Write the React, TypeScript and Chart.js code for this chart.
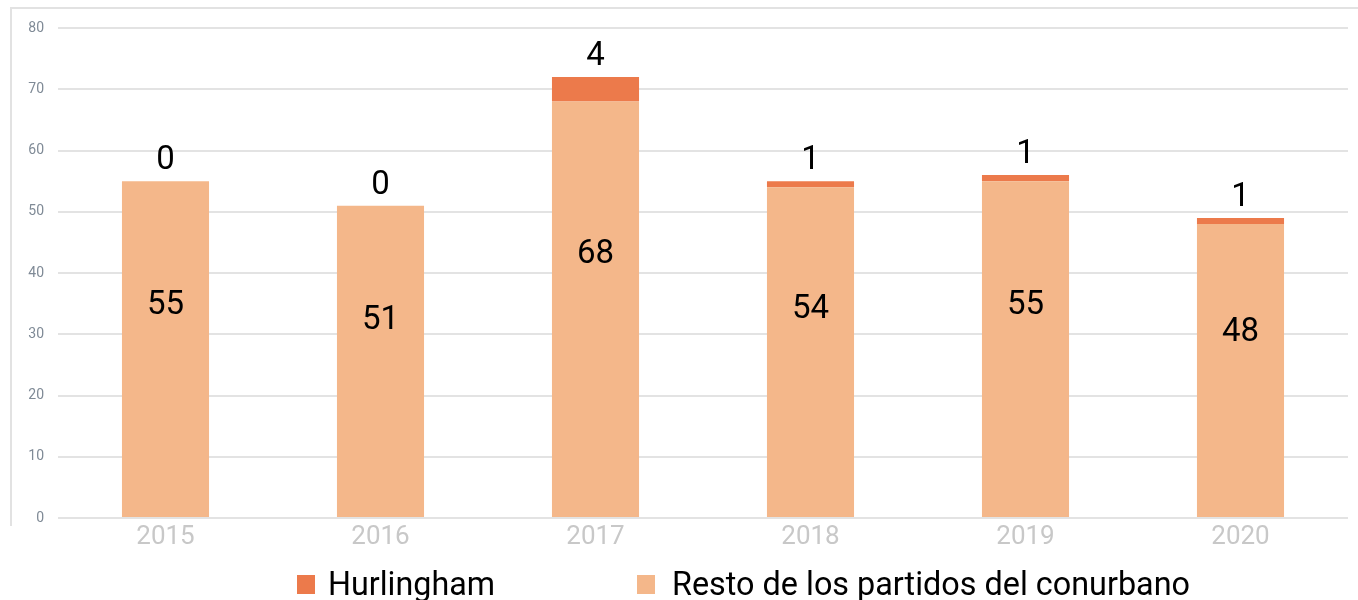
import React, { useEffect, useRef } from "react";
import { Chart, registerables } from "chart.js";

Chart.register(...registerables);

const years = ["2015", "2016", "2017", "2018", "2019", "2020"];
const resto = [55, 51, 68, 54, 55, 48];
const hurlingham = [0, 0, 4, 1, 1, 1];
const seriesNames = ["Hurlingham", "Resto de los partidos del conurbano"];
const colorHurlingham = "#EC7A4B";
const colorResto = "#F4B78A";

const framePlugin = {
  id: "frame",
  beforeDraw(chart: any) {
    const ctx = chart.ctx;
    ctx.save();
    ctx.strokeStyle = "#e2e2e2";
    ctx.lineWidth = 2;
    ctx.beginPath();
    ctx.moveTo(11, 526);
    ctx.lineTo(11, 8);
    ctx.lineTo(chart.width, 8);
    ctx.stroke();
    ctx.restore();
  },
};

const labelsPlugin = {
  id: "valueLabels",
  afterDatasetsDraw(chart: any) {
    const ctx = chart.ctx;
    ctx.save();
    ctx.fillStyle = "#000";
    ctx.font = "33px Roboto";
    ctx.textAlign = "center";
    ctx.textBaseline = "middle";
    const mResto = chart.getDatasetMeta(0);
    const mH = chart.getDatasetMeta(1);
    mResto.data.forEach((el: any, i: number) => {
      const y = el.y + 0.37 * (el.base - el.y);
      ctx.fillText(String(resto[i]), el.x, y);
    });
    mH.data.forEach((el: any, i: number) => {
      ctx.fillText(String(hurlingham[i]), el.x, el.y - 20);
    });
    ctx.restore();
  },
};

const legendPlugin = {
  id: "customLegend",
  afterDraw(chart: any) {
    const ctx = chart.ctx;
    ctx.save();
    ctx.textBaseline = "alphabetic";
    ctx.textAlign = "left";
    ctx.font = "33px Roboto";
    const items = [
      { sx: 297, tx: 328, w: 167, color: colorHurlingham, text: seriesNames[0] },
      { sx: 637, tx: 672, w: 518, color: colorResto, text: seriesNames[1] },
    ];
    items.forEach((it) => {
      ctx.fillStyle = it.color;
      ctx.fillRect(it.sx, 575, 18, 19);
      ctx.fillStyle = "#000";
      ctx.fillText(it.text, it.tx, 595, it.w);
    });
    ctx.restore();
  },
};

export default function App() {
  const ref = useRef<HTMLCanvasElement>(null);
  useEffect(() => {
    document.body.style.margin = "0";
    const chart = new Chart(ref.current!, {
      type: "bar",
      data: {
        labels: years,
        datasets: [
          {
            label: seriesNames[1],
            data: resto,
            backgroundColor: colorResto,
            categoryPercentage: 1,
            barPercentage: 0.405,
          },
          {
            label: seriesNames[0],
            data: hurlingham,
            backgroundColor: colorHurlingham,
            categoryPercentage: 1,
            barPercentage: 0.405,
          },
        ],
      },
      options: {
        responsive: false,
        animation: false,
        layout: { padding: { left: 0, right: 10, top: 28, bottom: 0 } },
        plugins: { legend: { display: false }, tooltip: { enabled: false } },
        scales: {
          x: {
            stacked: true,
            grid: { display: false },
            border: { display: false },
            ticks: { color: "#c8c8c8", font: { family: "Roboto", size: 26 }, padding: -4 },
            afterFit: (s: any) => {
              s.height = 82;
            },
          },
          y: {
            stacked: true,
            min: 0,
            max: 80,
            ticks: {
              stepSize: 10,
              color: "#7f8a96",
              font: { family: "Roboto", size: 14 },
              padding: 14,
            },
            grid: { color: "#e3e3e3", lineWidth: 2, drawTicks: false },
            border: { display: false },
            afterFit: (s: any) => {
              s.width = 58;
            },
          },
        },
      },
      plugins: [framePlugin, labelsPlugin, legendPlugin],
    });
    return () => chart.destroy();
  }, []);
  return (
    <div style={{ position: "absolute", left: 0, top: 0, width: 1358, height: 600 }}>
      <canvas ref={ref} width={1358} height={600} />
    </div>
  );
}
